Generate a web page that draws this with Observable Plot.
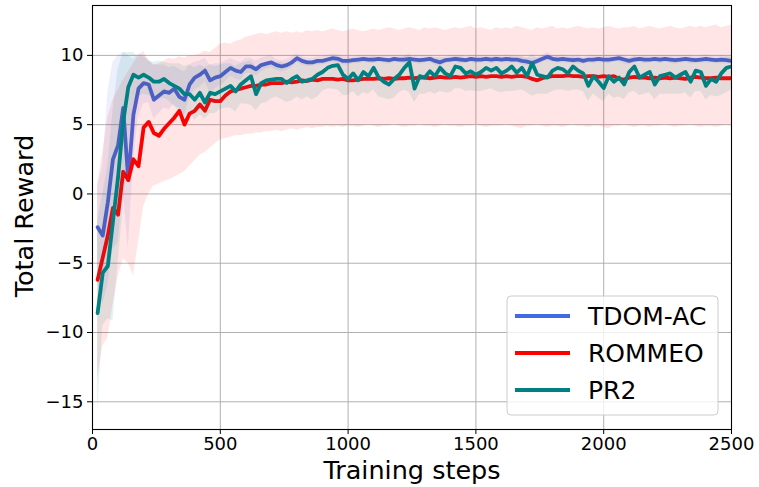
<!DOCTYPE html>
<html>
<head>
<meta charset="utf-8">
<script src="https://cdn.jsdelivr.net/npm/d3@7"></script>
<script src="https://cdn.jsdelivr.net/npm/@observablehq/plot@0.6"></script>
<style>
  html, body { margin: 0; padding: 0; background: white; }
  #chart svg { display: block; }
</style>
</head>
<body>
<div id="chart"></div>
<script>
// ---------- data ----------
const steps = d3.range(20, 2501, 20); // 125 sample points

const seriesNames = ["TDOM-AC", "ROMMEO", "PR2"];
const seriesColors = ["#4169e1", "#ff0000", "#008080"];

const xTicks = [0, 500, 1000, 1500, 2000, 2500];
const yTicks = [-15, -10, -5, 0, 5, 10];

const tdomMean = [
 -2.4,-3.0,-0.6,2.5,3.5,6.2,1.0,5.7,7.6,8.0,
 7.9,6.8,7.1,7.4,7.3,7.6,7.0,6.8,7.9,8.4,
 8.6,8.9,8.2,8.4,8.5,8.8,9.1,8.9,8.8,9.2,
 9.2,9.0,9.3,9.4,9.5,9.3,9.2,9.3,9.5,9.8,
 9.6,9.5,9.5,9.6,9.6,9.7,9.8,9.75,9.6,9.6,
 9.65,9.7,9.75,9.7,9.7,9.75,9.7,9.65,9.75,9.7,
 9.7,9.75,9.7,9.65,9.7,9.75,9.6,9.5,9.65,9.7,
 9.75,9.7,9.65,9.75,9.7,9.7,9.75,9.7,9.75,9.7,
 9.75,9.7,9.7,9.6,9.55,9.45,9.6,9.75,9.9,9.75,
 9.7,9.75,9.7,9.65,9.7,9.6,9.7,9.7,9.75,9.7,
 9.7,9.75,9.8,9.7,9.6,9.7,9.75,9.7,9.7,9.75,
 9.7,9.75,9.7,9.65,9.7,9.75,9.7,9.65,9.7,9.75,
 9.7,9.65,9.7,9.65,9.6];
const tdomDown = [
 4.0,5.0,6.0,6.5,7.0,6.0,5.0,3.5,2.0,1.5,
 1.3,1.4,1.3,1.2,1.2,1.1,1.2,1.1,1.0,0.9,
 0.9,0.8,0.9,0.8,0.7,0.7,0.6,0.6,0.6,0.5,
 0.5,0.5,0.5,0.4,0.4,0.4,0.4,0.4,0.4,0.3,
 0.3,0.3,0.3,0.3,0.3,0.3,0.3,0.3,0.3,0.3,
 0.25,0.3,0.25,0.25,0.3,0.25,0.25,0.3,0.25,0.25,
 0.3,0.25,0.25,0.3,0.25,0.25,0.3,0.35,0.25,0.25,
 0.25,0.3,0.25,0.25,0.3,0.25,0.25,0.3,0.25,0.25,
 0.3,0.25,0.25,0.3,0.3,0.35,0.25,0.25,0.3,0.25,
 0.25,0.3,0.25,0.25,0.3,0.25,0.25,0.3,0.25,0.25,
 0.3,0.25,0.25,0.3,0.3,0.25,0.25,0.3,0.25,0.25,
 0.3,0.25,0.25,0.3,0.25,0.25,0.3,0.25,0.25,0.3,
 0.25,0.25,0.3,0.25,0.25];
const tdomUp = [
 3.0,5.0,8.0,7.0,6.5,4.0,9.0,4.0,2.5,2.0,
 1.8,2.5,2.2,1.9,1.8,1.6,2.0,2.0,1.4,1.1,
 1.0,0.9,1.1,1.0,0.9,0.8,0.7,0.7,0.7,0.6,
 0.6,0.6,0.5,0.5,0.5,0.4,0.4,0.4,0.4,0.3,
 0.3,0.3,0.3,0.3,0.3,0.3,0.3,0.3,0.3,0.3,
 0.25,0.3,0.25,0.25,0.3,0.25,0.25,0.3,0.25,0.25,
 0.3,0.25,0.25,0.3,0.25,0.25,0.3,0.25,0.25,0.25,
 0.25,0.3,0.25,0.25,0.3,0.25,0.25,0.3,0.25,0.25,
 0.3,0.25,0.25,0.3,0.25,0.3,0.25,0.25,0.3,0.25,
 0.25,0.3,0.25,0.25,0.3,0.25,0.25,0.3,0.25,0.25,
 0.3,0.25,0.25,0.3,0.25,0.25,0.25,0.3,0.25,0.25,
 0.3,0.25,0.25,0.3,0.25,0.25,0.3,0.25,0.25,0.3,
 0.25,0.25,0.3,0.25,0.25];

const rommeoMean = [
 -6.2,-4.6,-3.0,-1.0,-1.5,1.6,1.0,2.5,2.0,4.8,
 5.2,4.4,4.2,4.7,5.1,5.5,6.0,5.0,5.8,6.0,
 6.45,6.0,6.8,6.7,6.7,7.1,7.4,7.5,7.6,7.7,
 7.8,7.8,7.9,7.9,8.0,8.0,8.0,8.1,8.05,8.1,
 8.2,8.15,8.25,8.2,8.3,8.3,8.3,8.25,8.3,8.2,
 8.2,8.25,8.3,8.3,8.3,8.35,8.3,8.35,8.3,8.35,
 8.35,8.4,8.35,8.4,8.4,8.35,8.4,8.45,8.4,8.4,
 8.45,8.4,8.45,8.5,8.45,8.5,8.45,8.5,8.5,8.45,
 8.5,8.45,8.5,8.5,8.45,8.3,8.2,8.35,8.45,8.5,
 8.5,8.5,8.55,8.5,8.5,8.45,8.5,8.5,8.45,8.5,
 8.45,8.5,8.3,8.25,8.4,8.45,8.4,8.4,8.35,8.4,
 8.35,8.4,8.35,8.4,8.35,8.3,8.4,8.45,8.4,8.35,
 8.35,8.4,8.35,8.35,8.35];
const rommeoLow = [
 -13.3,-11.0,-10.4,-8.0,-6.0,-4.7,-5.0,-5.9,-3.5,-0.9,
 0.0,0.6,0.7,0.9,1.0,1.2,1.4,1.6,2.0,2.4,
 2.8,3.0,3.3,3.6,3.9,4.0,4.1,4.2,4.2,4.3,
 4.3,4.4,4.4,4.5,4.5,4.6,4.5,4.6,4.7,4.6,
 4.7,4.8,4.7,4.8,4.8,4.9,4.8,4.9,4.8,4.9,
 4.9,4.8,4.9,5.0,4.9,4.8,4.9,4.9,5.0,4.9,
 4.8,4.9,4.9,5.0,4.9,4.9,4.8,4.9,5.0,4.9,
 4.9,4.8,4.9,4.9,5.0,4.9,4.8,4.9,4.9,4.9,
 5.0,4.9,4.8,4.7,4.9,4.9,5.0,4.9,4.8,4.9,
 4.9,4.8,4.9,5.0,4.9,4.9,4.8,4.9,4.9,4.8,
 4.7,4.9,4.9,5.0,4.9,4.8,4.9,4.9,4.8,4.9,
 4.9,5.0,4.9,4.8,4.9,4.9,5.0,4.9,4.8,4.9,
 4.9,4.8,4.9,5.0,4.9];
const rommeoHigh = [
 0.7,3.0,5.5,6.8,7.5,8.2,8.8,9.4,10.0,10.3,
 9.6,9.3,9.4,9.6,9.8,9.7,9.9,9.8,10.0,10.0,
 10.1,10.3,10.2,10.5,10.8,10.9,10.8,11.0,11.1,11.3,
 11.4,11.5,11.6,11.5,11.6,11.7,11.6,11.7,11.6,11.7,
 11.6,11.8,11.7,11.8,11.7,11.8,11.9,11.8,11.7,11.8,
 11.9,11.8,11.7,11.8,11.9,11.8,11.9,12.0,11.9,11.8,
 11.9,12.0,11.9,11.8,12.0,11.9,12.0,11.9,11.8,11.9,
 12.0,11.9,12.0,12.1,11.9,12.0,11.9,11.8,12.0,11.9,
 12.0,11.9,12.1,12.0,11.9,11.8,12.0,11.9,12.0,12.1,
 11.9,12.0,11.9,12.0,12.1,12.0,11.9,12.0,11.9,12.0,
 12.1,12.0,11.9,12.0,12.0,12.1,11.9,12.0,12.1,12.0,
 11.9,12.0,12.1,12.0,11.9,12.0,12.1,12.0,12.1,12.0,
 12.1,12.2,12.0,12.1,12.2];

const pr2Mean = [
 -8.6,-5.7,-5.2,-2.0,1.2,5.2,7.7,8.6,8.4,8.6,
 8.4,8.1,8.1,8.3,8.0,7.8,7.6,7.2,7.2,6.8,
 7.3,6.6,7.3,7.2,7.4,7.6,7.8,7.4,7.9,8.2,
 8.5,7.2,8.0,8.2,8.25,8.3,8.3,8.0,8.3,8.5,
 8.1,8.2,8.3,8.6,8.8,9.1,9.25,9.3,8.6,8.3,
 8.7,8.2,8.8,8.5,9.1,8.4,8.1,7.9,8.3,8.6,
 9.1,9.5,7.6,8.5,8.4,8.85,8.5,9.1,8.7,8.5,
 9.2,9.1,8.7,8.85,8.6,8.8,9.1,8.9,9.1,8.7,
 8.9,9.2,8.75,9.1,8.5,9.45,8.6,8.5,8.4,8.9,
 9.1,9.0,8.7,9.2,8.9,8.7,7.8,8.5,8.1,7.65,
 8.5,8.1,8.4,7.9,8.8,9.2,8.4,8.6,8.8,7.9,
 8.5,8.6,8.7,8.4,8.6,8.8,8.1,8.9,8.8,7.8,
 8.3,8.1,8.7,9.1,9.2];
const pr2Down = [
 7.1,3.8,3.8,7.2,6.2,6.2,4.7,2.1,1.4,1.4,
 1.3,1.2,1.3,1.4,1.3,1.5,1.4,1.6,1.3,1.5,
 1.6,1.2,1.5,1.4,1.3,1.4,1.6,1.5,1.4,1.7,
 2.1,1.2,1.5,1.6,1.4,1.3,1.5,1.4,1.6,1.5,
 1.3,1.2,1.5,1.6,1.4,1.5,1.7,1.8,1.5,1.2,
 1.3,1.2,1.5,1.3,1.6,1.4,1.2,1.1,1.4,1.3,
 1.6,2.2,1.0,1.3,1.2,1.5,1.3,1.7,1.4,1.2,
 1.6,1.5,1.3,1.4,1.2,1.4,1.6,1.3,1.7,1.4,
 1.5,1.8,1.3,1.6,1.2,2.4,1.4,1.3,1.2,1.5,
 1.6,1.5,1.3,1.7,1.4,1.3,1.1,1.3,1.2,1.0,
 1.3,1.2,1.4,1.1,1.5,1.8,1.3,1.4,1.5,1.1,
 1.3,1.4,1.5,1.2,1.4,1.5,1.2,1.5,1.4,1.0,
 1.2,1.1,1.6,1.8,1.7];
const pr2Up = [
 6.6,5.7,7.2,8.0,7.8,5.0,2.5,1.6,1.5,1.3,
 1.2,1.4,1.5,1.2,1.4,1.6,1.8,2.0,2.1,2.3,
 2.0,2.5,2.0,2.0,1.9,1.8,1.6,1.8,1.5,1.3,
 1.1,2.0,1.4,1.2,1.2,1.2,1.2,1.4,1.2,1.1,
 1.5,1.4,1.3,1.1,0.9,0.7,0.6,0.6,1.1,1.4,
 1.1,1.5,1.0,1.3,0.8,1.4,1.6,1.8,1.5,1.2,
 0.8,0.6,2.0,1.3,1.4,1.0,1.3,0.8,1.1,1.3,
 0.7,0.8,1.1,1.0,1.2,1.0,0.8,0.9,0.8,1.1,
 0.9,0.7,1.1,0.8,1.3,0.6,1.2,1.3,1.4,0.9,
 0.8,0.8,1.1,0.7,0.9,1.1,1.8,1.3,1.6,1.9,
 1.3,1.6,1.4,1.8,1.0,0.7,1.4,1.2,1.0,1.8,
 1.3,1.2,1.1,1.4,1.2,1.0,1.6,0.9,1.0,1.9,
 1.5,1.6,1.1,0.8,0.7];

// ---------- build tables ----------
const tdomRows = steps.map((s, i) => ({step: s, mean: tdomMean[i], lo: tdomMean[i] - tdomDown[i], hi: tdomMean[i] + tdomUp[i]}));
const rommeoRows = steps.map((s, i) => ({step: s, mean: rommeoMean[i], lo: rommeoLow[i], hi: rommeoHigh[i]}));
const pr2Rows = steps.map((s, i) => ({step: s, mean: pr2Mean[i], lo: pr2Mean[i] - pr2Down[i], hi: pr2Mean[i] + pr2Up[i]}));
const tables = [tdomRows, rommeoRows, pr2Rows];

const bandMarks = tables.map((rows, k) =>
  Plot.areaY(rows, {x: "step", y1: "lo", y2: "hi", fill: seriesColors[k], fillOpacity: 0.1, clip: true}));
const lineMarks = tables.map((rows, k) =>
  Plot.lineY(rows, {x: "step", y: "mean", stroke: seriesColors[k], strokeWidth: 3.8, strokeLinejoin: "round", clip: true}));

const W = 759, H = 487;
const chart = Plot.plot({
  width: W, height: H,
  marginLeft: 92, marginRight: 28, marginTop: 5, marginBottom: 58,
  style: {fontFamily: "DejaVu Sans", fontSize: "18px", background: "white", color: "black"},
  x: {domain: [0, 2500], label: null},
  y: {domain: [-17, 13.6], label: null},
  marks: [
    Plot.gridX(xTicks, {stroke: "#b0b0b0", strokeOpacity: 1, strokeWidth: 1}),
    Plot.gridY(yTicks, {stroke: "#b0b0b0", strokeOpacity: 1, strokeWidth: 1}),
    bandMarks[0], lineMarks[0],
    bandMarks[1], lineMarks[1],
    bandMarks[2], lineMarks[2],
    Plot.frame({stroke: "black", strokeWidth: 1.1}),
    Plot.axisX(xTicks, {tickSize: 5, tickPadding: 3, tickFormat: d3.format("d"), fontSize: 18, label: null}),
    Plot.axisY(yTicks, {tickSize: 5, tickPadding: 4, tickFormat: d3.format("d"), fontSize: 18, label: null})
  ]
});
document.getElementById("chart").appendChild(chart);

// ---------- axis titles & legend (decoration) ----------
const svg = d3.select(chart);
svg.append("text").attr("x", 412).attr("y", 479).attr("text-anchor", "middle")
  .attr("font-family", "DejaVu Sans").attr("font-size", 25.5).attr("fill", "black").text("Training steps");
svg.append("text").attr("transform", "translate(33,216) rotate(-90)").attr("text-anchor", "middle")
  .attr("font-family", "DejaVu Sans").attr("font-size", 25.5).attr("fill", "black").text("Total Reward");

const lg = svg.append("g");
lg.append("rect").attr("x", 507).attr("y", 296).attr("width", 211).attr("height", 119).attr("rx", 4)
  .attr("fill", "white").attr("fill-opacity", 0.8).attr("stroke", "#cccccc").attr("stroke-width", 1);
seriesNames.forEach((name, k) => {
  const cy = 316 + k * 37;
  lg.append("line").attr("x1", 515).attr("x2", 570).attr("y1", cy).attr("y2", cy)
    .attr("stroke", seriesColors[k]).attr("stroke-width", 3.8);
  lg.append("text").attr("x", 588).attr("y", cy + 9).attr("text-anchor", "start")
    .attr("font-family", "DejaVu Sans").attr("font-size", 25).attr("fill", "black").text(name);
});
</script>
</body>
</html>
